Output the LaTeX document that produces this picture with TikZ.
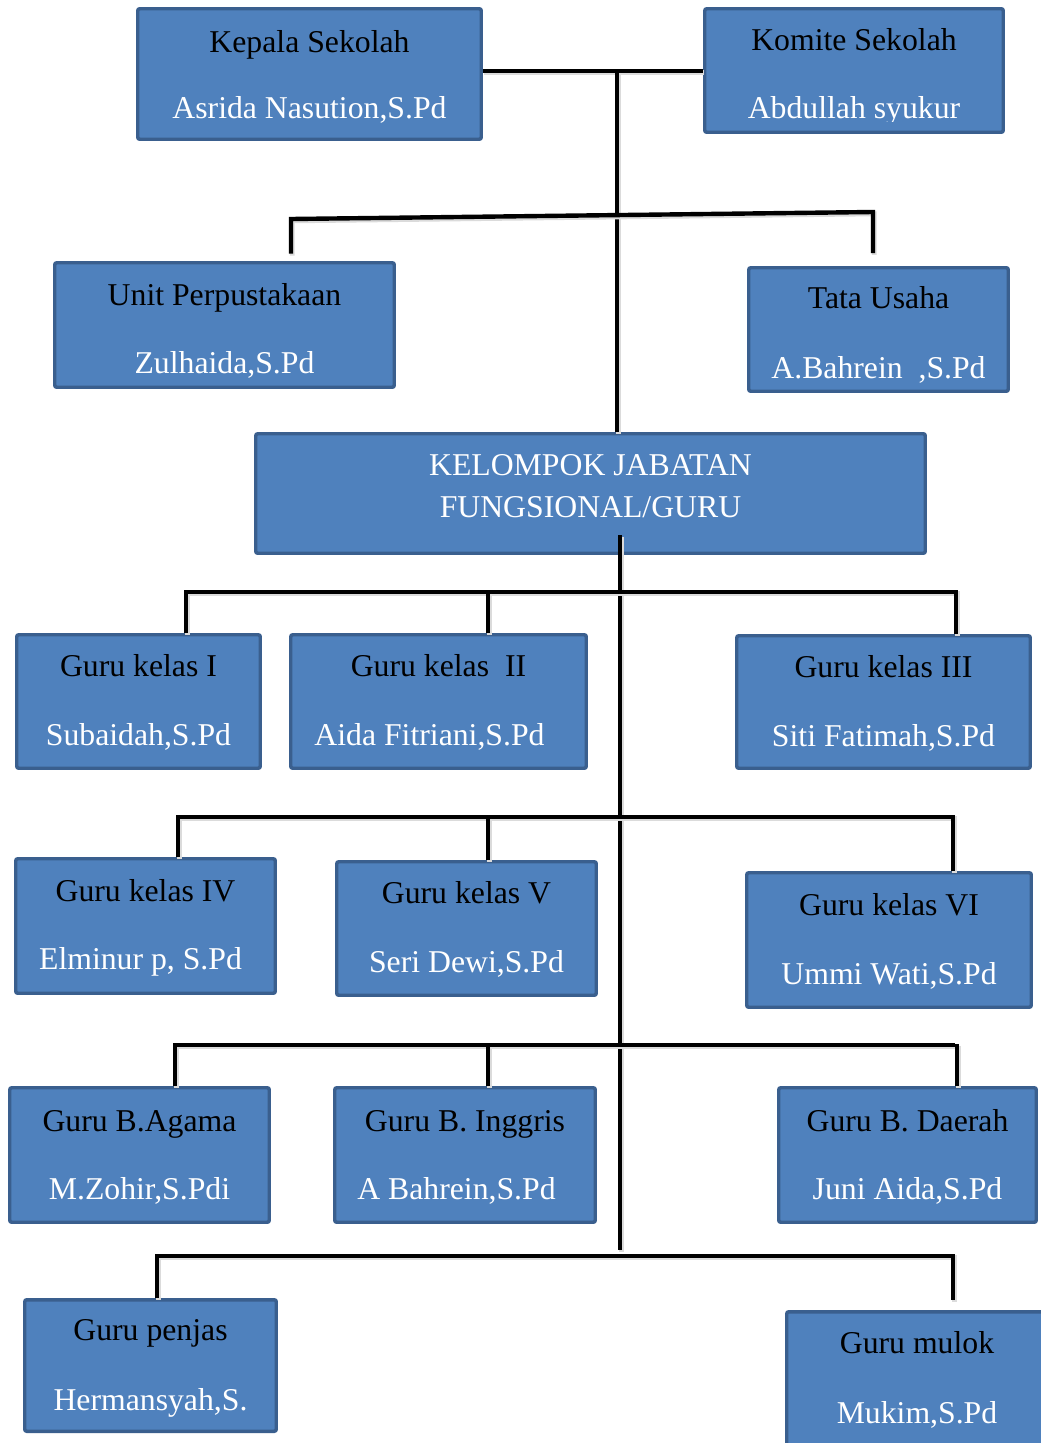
\documentclass[tikz,border=0pt]{standalone}
\usepackage{fontspec}
\setmainfont{Liberation Serif}
\definecolor{boxfill}{HTML}{4F81BD}
\definecolor{boxline}{HTML}{3A5F8E}
\tikzset{
  orgbox/.style={draw=boxline, fill=boxfill, line width=2.6pt, rounded corners=1.5pt, inner sep=0pt},
  ttl/.style={inner sep=0pt, text=black, font=\fontsize{23.8}{28}\selectfont},
  nm/.style={inner sep=0pt, text=white, font=\fontsize{23.8}{28}\selectfont},
  conn/.style={line width=3.3pt, black,
    preaction={draw=black!14, line width=3.6pt, transform canvas={shift={(0.9pt,-1.4pt)}}}},
}
\newcommand\orgbox[9]{%
  \pgfmathsetmacro\obw{(#4-#2-3.5)*0.75}%
  \pgfmathsetmacro\obh{(#5-#3-3.5)*0.75}%
  \pgfmathsetmacro\obx{(#2+#4)/2}%
  \pgfmathsetmacro\oby{(#3+#5)/2}%
  \node[orgbox, minimum width=\obw pt, minimum height=\obh pt] (#1) at (\obx,\oby) {};
  \node[ttl, anchor=base] (#1t) at (\obx,#6) {#8};
  \node[nm, anchor=base] (#1n) at (\obx,#7) {#9};
}
\begin{document}
\begin{tikzpicture}[x=0.75pt, y=-0.75pt]
\useasboundingbox (0,0) rectangle (1040,1443);
\fill[white] (0,0) rectangle (1040,1443);

% boxes
\orgbox{kepala}{136}{7}{483}{141}{52}{118}{Kepala Sekolah}{Asrida Nasution,S.Pd}
% Komite (name clipped at the bottom)
\node[orgbox, minimum width={(1005-703-3.5)*0.75pt}, minimum height={(134-7-3.5)*0.75pt}] (komite) at (854,70.5) {};
\node[ttl, anchor=base] (komitet) at (854,50) {Komite Sekolah};
\begin{scope}
  \clip (703,80) rectangle (1005,121);
  \node[nm, anchor=base] (komiten) at (854,118) {Abdullah syukur};
\end{scope}
\orgbox{unit}{53}{261}{396}{389}{305}{373}{Unit Perpustakaan}{Zulhaida,S.Pd}
\orgbox{tata}{747}{266}{1010}{393}{308}{378}{Tata Usaha}{A.Bahrein\ \ ,S.Pd}

\node[orgbox, minimum width={(927-254-3.5)*0.75pt}, minimum height={(555-432-3.5)*0.75pt}] (kelompok) at (590.5,493.5) {};
\node[nm, anchor=base] (kelompok1) at (590.5,475) {KELOMPOK JABATAN};
\node[nm, anchor=base] (kelompok2) at (590.5,517) {FUNGSIONAL/GURU};

\orgbox{g1}{15}{633}{262}{770}{676}{745}{Guru kelas I}{Subaidah,S.Pd}
\orgbox{g2}{289}{633}{588}{770}{676}{745}{Guru kelas\ \ II}{Aida Fitriani,S.Pd\kern13.5pt}
\orgbox{g3}{735}{634}{1032}{770}{677}{746}{Guru kelas III}{Siti Fatimah,S.Pd}

\orgbox{g4}{14}{857}{277}{995}{901}{969}{Guru kelas IV}{Elminur p, S.Pd\kern7.5pt}
\orgbox{g5}{335}{860}{598}{997}{903}{972}{Guru kelas V}{Seri Dewi,S.Pd}
\orgbox{g6}{745}{871}{1033}{1009}{915}{984}{Guru kelas VI}{Ummi Wati,S.Pd}

\orgbox{g7}{8}{1086}{271}{1224}{1131}{1199}{Guru B.Agama}{M.Zohir,S.Pdi}
\orgbox{g8}{333}{1086}{597}{1224}{1131}{1199}{Guru B. Inggris}{A Bahrein,S.Pd\kern12.75pt}
\orgbox{g9}{777}{1086}{1038}{1224}{1131}{1199}{Guru B. Daerah}{Juni Aida,S.Pd}

\orgbox{g10}{23}{1298}{278}{1433}{1340}{1410}{Guru penjas}{Hermansyah,S.}
\orgbox{g11}{785}{1310}{1049}{1448}{1353}{1423}{Guru mulok}{Mukim,S.Pd}

% junction coordinates
\coordinate (j0) at (617,71);
\coordinate (u1) at (291,219);
\coordinate (u2) at (873,212);
\coordinate (k0) at (620,535);
\coordinate (k1) at (620,1250);
\coordinate (r1a) at (186,592); \coordinate (r1b) at (488,592); \coordinate (r1c) at (956,592);
\coordinate (r2a) at (178,817); \coordinate (r2b) at (488,817); \coordinate (r2c) at (953,817);
\coordinate (r3a) at (175,1045); \coordinate (r3b) at (488,1045); \coordinate (r3c) at (955,1045);
\coordinate (r3d) at (957,1044);
\coordinate (r4a) at (157,1256); \coordinate (r4c) at (953,1256);

% connectors
\draw[conn] (kepala.east |- j0) -- (komite.west |- j0);
\draw[conn] (j0) -- (kelompok.north -| j0);
\draw[conn] ([yshift=-26pt]u1) -- (u1) -- (u2) -- ([yshift=-30.75pt]u2);
\draw[conn] (k0) -- (k1);

\draw[conn] (g1.north -| r1a) -- (r1a) -- (r1c) -- (g3.north -| r1c);
\draw[conn] (r1b) -- (g2.north -| r1b);

\draw[conn] (g4.north -| r2a) -- (r2a) -- (r2c) -- (g6.north -| r2c);
\draw[conn] (r2b) -- (g5.north -| r2b);

\draw[conn] (g7.north -| r3a) -- (r3a) -- (r3c);
\draw[conn] (r3b) -- (g8.north -| r3b);
\draw[conn] (r3d) -- (g9.north -| r3d);

\draw[conn] (g10.north -| r4a) -- (r4a) -- (r4c) -- ([yshift=-33pt]r4c);
\end{tikzpicture}
\end{document}
